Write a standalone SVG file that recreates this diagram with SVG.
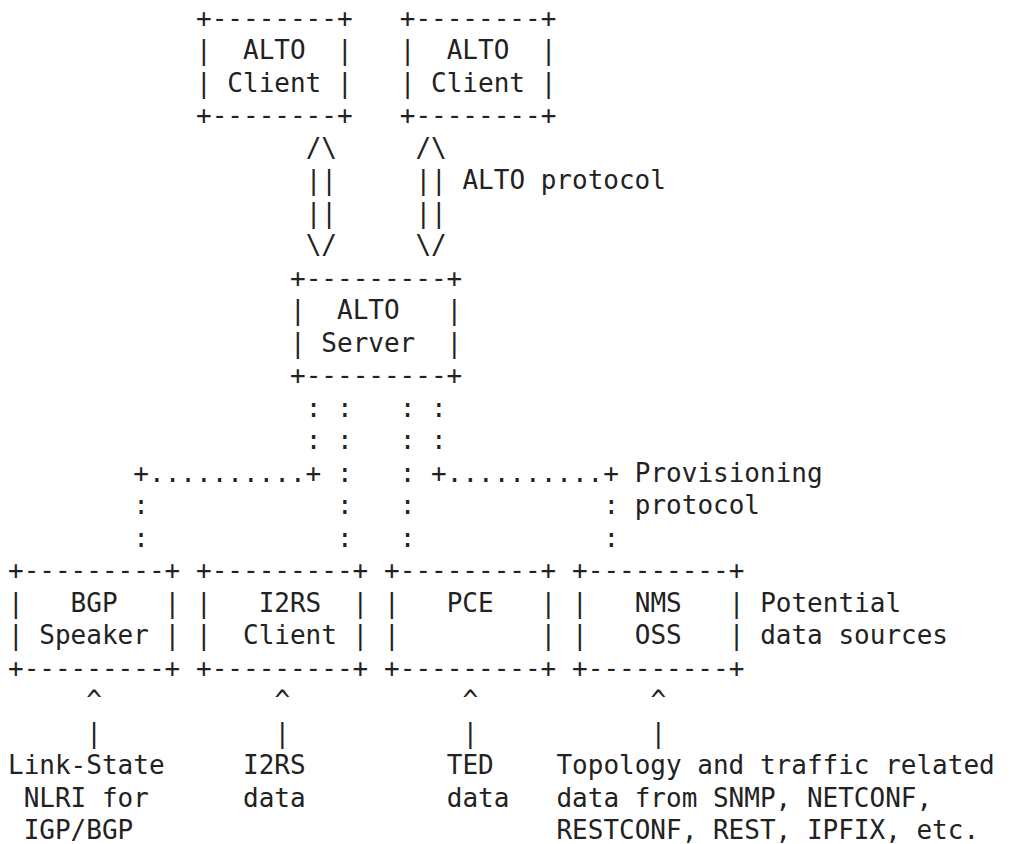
<svg xmlns="http://www.w3.org/2000/svg" width="1012" height="844" viewBox="0 0 1012 844" xml:space="preserve">
<style>
text { font-family: "DejaVu Sans Mono", "Liberation Mono", monospace; font-size: 26px; fill: #222222; white-space: pre; }
</style>
<rect x="0" y="0" width="1012" height="844" fill="#ffffff"/>
<g transform="translate(0,-2.5)">
<g id="alto-client-1">
<text x="196.04" y="29">+--------+</text>
<text x="196.04" y="61.5">|  ALTO  |</text>
<text x="196.04" y="94">| Client |</text>
<text x="196.04" y="126.5">+--------+</text>
</g>
<g id="alto-client-2">
<text x="399.75" y="29">+--------+</text>
<text x="399.75" y="61.5">|  ALTO  |</text>
<text x="399.75" y="94">| Client |</text>
<text x="399.75" y="126.5">+--------+</text>
</g>
<g id="alto-server">
<text x="290.06" y="289">+---------+</text>
<text x="290.06" y="321.5">|  ALTO   |</text>
<text x="290.06" y="354">| Server  |</text>
<text x="290.06" y="386.5">+---------+</text>
</g>
<g id="bgp-speaker">
<text x="8" y="581.5">+---------+</text>
<text x="8" y="614">|   BGP   |</text>
<text x="8" y="646.5">| Speaker |</text>
<text x="8" y="679">+---------+</text>
</g>
<g id="i2rs-client">
<text x="196.04" y="581.5">+---------+</text>
<text x="196.04" y="614">|   I2RS  |</text>
<text x="196.04" y="646.5">|  Client |</text>
<text x="196.04" y="679">+---------+</text>
</g>
<g id="pce">
<text x="384.08" y="581.5">+---------+</text>
<text x="384.08" y="614">|   PCE   |</text>
<text x="384.08" y="646.5">|         |</text>
<text x="384.08" y="679">+---------+</text>
</g>
<g id="nms-oss">
<text x="572.12" y="581.5">+---------+</text>
<text x="572.12" y="614">|   NMS   |</text>
<text x="572.12" y="646.5">|   OSS   |</text>
<text x="572.12" y="679">+---------+</text>
</g>
<g id="connectors">
<text x="305.73" y="159">/\</text>
<text x="415.42" y="159">/\</text>
<text x="305.73" y="191.5">||</text>
<text x="415.42" y="191.5">||</text>
<text x="462.43" y="191.5">ALTO protocol</text>
<text x="305.73" y="224">||</text>
<text x="415.42" y="224">||</text>
<text x="305.73" y="256.5">\/</text>
<text x="415.42" y="256.5">\/</text>
<text x="305.73" y="419">: :</text>
<text x="399.75" y="419">: :</text>
<text x="305.73" y="451.5">: :</text>
<text x="399.75" y="451.5">: :</text>
<text x="133.36" y="484">+..........+</text>
<text x="337.07" y="484">:</text>
<text x="399.75" y="484">:</text>
<text x="431.09" y="484">+..........+</text>
<text x="634.8" y="484">Provisioning</text>
<text x="133.36" y="516.5">:</text>
<text x="337.07" y="516.5">:</text>
<text x="399.75" y="516.5">:</text>
<text x="603.46" y="516.5">:</text>
<text x="634.8" y="516.5">protocol</text>
<text x="133.36" y="549">:</text>
<text x="337.07" y="549">:</text>
<text x="399.75" y="549">:</text>
<text x="603.46" y="549">:</text>
<text x="86.35" y="711.5">^</text>
<text x="274.39" y="711.5">^</text>
<text x="462.43" y="711.5">^</text>
<text x="650.47" y="711.5">^</text>
<text x="86.35" y="744">|</text>
<text x="274.39" y="744">|</text>
<text x="462.43" y="744">|</text>
<text x="650.47" y="744">|</text>
</g>
<g id="labels">
<text x="760.16" y="614">Potential</text>
<text x="760.16" y="646.5">data sources</text>
<text x="8" y="776.5">Link-State</text>
<text x="23.67" y="809">NLRI for</text>
<text x="23.67" y="841.5">IGP/BGP</text>
<text x="243.05" y="776.5">I2RS</text>
<text x="243.05" y="809">data</text>
<text x="446.76" y="776.5">TED</text>
<text x="446.76" y="809">data</text>
<text x="556.45" y="776.5">Topology and traffic related</text>
<text x="556.45" y="809">data from SNMP, NETCONF,</text>
<text x="556.45" y="841.5">RESTCONF, REST, IPFIX, etc.</text>
</g>
</g>
</svg>
